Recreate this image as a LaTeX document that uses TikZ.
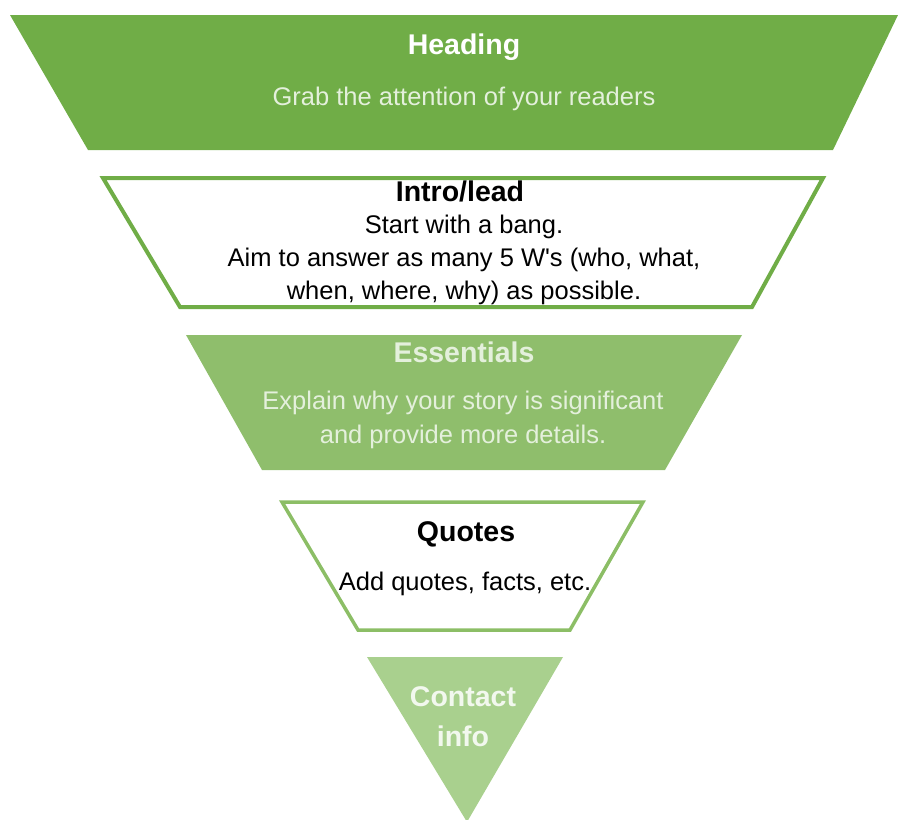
\documentclass[tikz,border=0pt]{standalone}
\usepackage{fontspec}
\setmainfont{Liberation Sans}
\begin{document}
\definecolor{gDark}{HTML}{70AD47}
\definecolor{gMid}{HTML}{8FBE6C}
\definecolor{gLight}{HTML}{A9D08E}
\definecolor{gLine}{HTML}{8CBE66}
\definecolor{tPale}{HTML}{E4F0DC}
\definecolor{tWhite}{HTML}{F2F8EE}
\begin{tikzpicture}[x=1pt,y=-1pt,
  title/.style={font=\bfseries\fontsize{28.5}{40}\selectfont, anchor=base, align=center},
  body/.style={font=\fontsize{25.5}{33}\selectfont, anchor=base, align=center},
  band/.style={line join=miter}]
\useasboundingbox (0,0) rectangle (898,820);
% layer 1: heading band
\fill[gDark,band] (10,15) -- (898,15) -- (833,150) -- (88,150) -- cycle;
% layer 2: intro band (outline)
\draw[gDark,line width=4,band] (103,178) -- (823,178) -- (752,307) -- (180,307) -- cycle;
% layer 3: essentials band
\fill[gMid,band] (186,335) -- (742,335) -- (665,470) -- (262,470) -- cycle;
% layer 4: quotes band (outline)
\draw[gLine,line width=3.5,band] (282,502) -- (643,502) -- (570,630) -- (358,630) -- cycle;
% layer 5: contact tip
\fill[gLight] (367,657) -- (563,657) -- (467,822) -- cycle;

% multi-line nodes are placed by the baseline of their last line
\node[title,white] (h1) at (464,54) {Heading};
\node[body,tPale] (h2) at (464,105) {Grab the attention of your readers};

\node[title,black] (i1) at (460,201) {Intro/lead};
\node[body,black] (i2) at (464,299) {Start with a bang.\\Aim to answer as many 5 W\textquotesingle s (who, what,\\when, where, why) as possible.};

\node[title,tPale] (e1) at (464,362) {Essentials};
\node[body,tPale,font=\fontsize{25.5}{34}\selectfont] (e2) at (463,443) {Explain why your story is significant\\and provide more details.};

\node[title,black] (q1) at (466,541) {Quotes};
\node[body,black] (q2) at (465,590) {Add quotes, facts, etc.};

\node[title,tWhite] (c1) at (463,746) {Contact\\info};
\end{tikzpicture}
\end{document}
